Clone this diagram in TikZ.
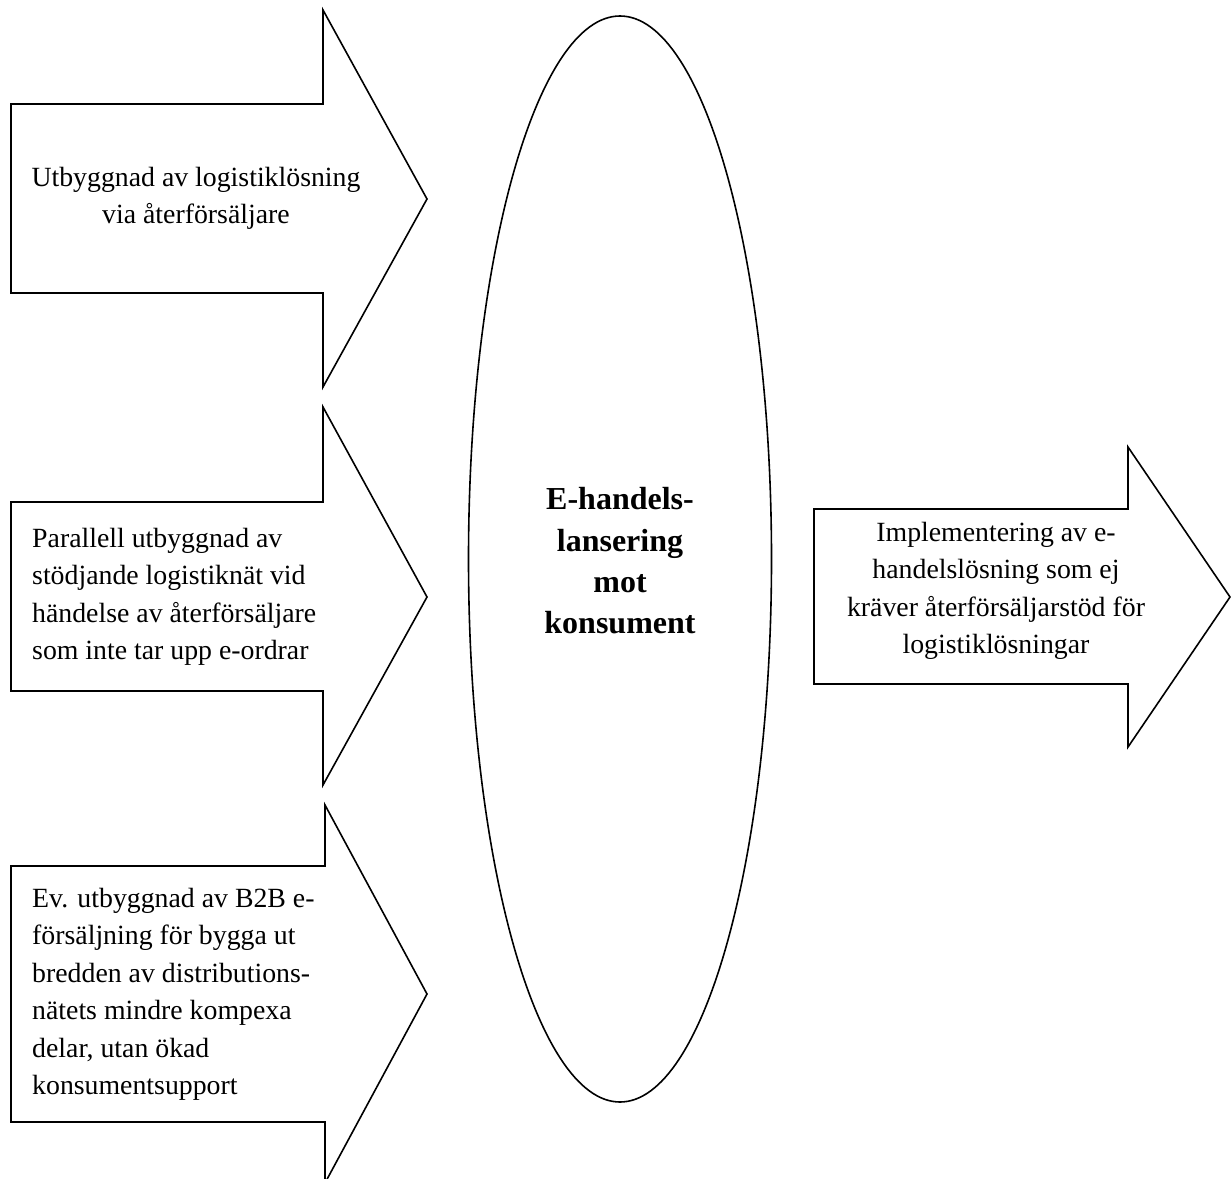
\documentclass[tikz,border=0pt]{standalone}
\usepackage{fontspec}
\setmainfont{Liberation Serif}
\usetikzlibrary{shapes.geometric}
\begin{document}
\begin{tikzpicture}[x=1pt,y=-1pt,
  blockarrow/.style={draw=black,line width=1.6pt,line join=miter,fill=white},
  bodytext/.style={inner sep=0pt,font=\fontsize{27.8}{37.5}\selectfont},
  coretext/.style={inner sep=0pt,font=\bfseries\fontsize{32}{41.3}\selectfont},
]
\clip (0,0) rectangle (1231,1178);
\fill[white] (0,0) rectangle (1231,1178);

% three input arrows on the left
\draw[blockarrow] (11,104) -- (323,104) -- (323,10) -- (427,199)
  -- (323,387) -- (323,293) -- (11,293) -- cycle;
\draw[blockarrow] (11,502) -- (323,502) -- (323,407) -- (427,597)
  -- (323,785) -- (323,691) -- (11,691) -- cycle;
\draw[blockarrow] (11,866) -- (325,866) -- (325,805) -- (427,994)
  -- (325,1183) -- (325,1122) -- (11,1122) -- cycle;

% output arrow on the right
\draw[blockarrow] (814,509) -- (1128,509) -- (1128,447) -- (1230,597)
  -- (1128,747) -- (1128,684) -- (814,684) -- cycle;

% central ellipse
\node[ellipse,draw=black,line width=1.6pt,minimum width=303pt,
  minimum height=1086pt,inner sep=0pt] (core) at (620,559) {};
\node[coretext,align=center] (coretxt) at (620,561)
  {E-handels-\\lansering\\mot\\konsument};

% arrow labels
\node[bodytext,align=center] (t1) at (196,198.5)
  {Utbyggnad av logistiklösning\\via återförsäljare};
\node[bodytext,align=left,anchor=west] (t2) at (32,597)
  {Parallell utbyggnad av\\stödjande logistiknät vid\\händelse av återförsäljare\\som inte tar upp e-ordrar};
\node[bodytext,align=left,anchor=west] (t3) at (32,994.5)
  {Ev. utbyggnad av B2B e-\\försäljning för bygga ut\\bredden av distributions-\\nätets mindre kompexa\\delar, utan ökad\\konsumentsupport};
\node[bodytext,align=center] (t4) at (996,591)
  {Implementering av e-\\handelslösning som ej\\kräver återförsäljarstöd för\\logistiklösningar};
\end{tikzpicture}
\end{document}
